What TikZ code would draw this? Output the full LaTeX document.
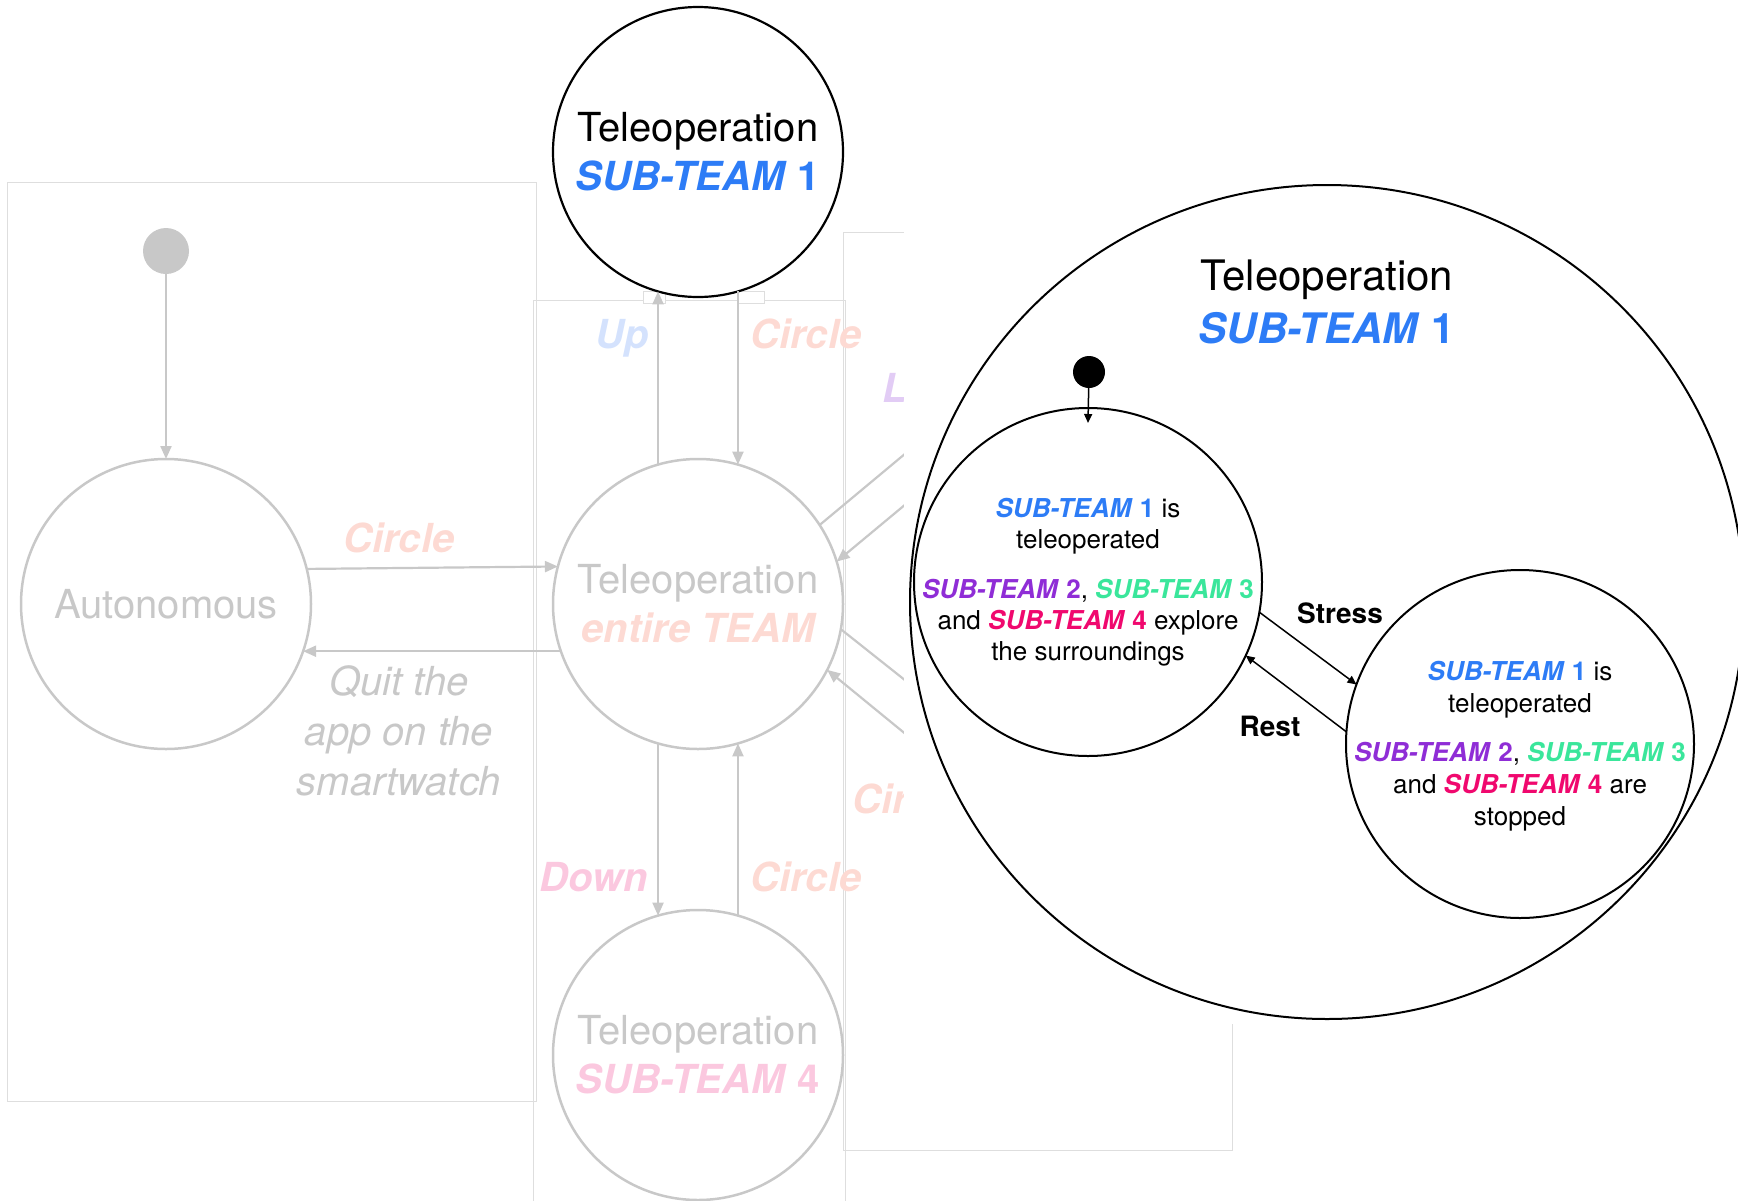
\documentclass[tikz,border=0pt]{standalone}
\usepackage{fontspec}
\setmainfont{TeX Gyre Heros}
\usetikzlibrary{arrows.meta,calc}

% palette
\definecolor{fadegray}{RGB}{200,200,200}
\definecolor{framegray}{RGB}{222,222,222}
\definecolor{teamone}{RGB}{45,124,246}
\definecolor{teamtwo}{RGB}{143,45,214}
\definecolor{teamthree}{RGB}{58,230,155}
\definecolor{teamfour}{RGB}{240,8,110}
\definecolor{fadeblue}{RGB}{212,226,253}
\definecolor{fadesalmon}{RGB}{253,218,211}
\definecolor{fadepink}{RGB}{251,200,223}
\definecolor{fadelilac}{RGB}{226,204,245}

% coloured sub-team tag: bold italic name, bold upright number
\newcommand\teamtag[2]{\textcolor{#1}{\bfseries\itshape SUB-TEAM\/ \upshape #2}}

\begin{document}
\begin{tikzpicture}[x=1pt,y=-1pt,
  framebox/.style={draw=framegray,line width=1pt},
  fadedline/.style={draw=fadegray,line width=2.2pt},
  fadedarrow/.style={fadedline,-{Triangle[length=13pt,width=11pt]}},
  bigstate/.style={circle,inner sep=0pt,outer sep=0pt,minimum size=290pt,
    align=center,font=\fontsize{40}{49}\selectfont},
  greystate/.style={bigstate,draw=fadegray,line width=2.5pt,text=fadegray},
  blackstate/.style={bigstate,draw=black,line width=2.2pt,fill=white},
  edgelabel/.style={anchor=base,inner sep=0pt,font=\fontsize{40}{50}\selectfont\bfseries\itshape},
  substate/.style={circle,draw=black,line width=2pt,inner sep=0pt,outer sep=0pt,minimum size=348pt},
  subtext/.style={align=center,inner sep=0pt,font=\fontsize{26}{31}\selectfont},
  blackarrow/.style={line width=1.5pt,-{Triangle[length=9pt,width=8pt]}},
  triggerlabel/.style={anchor=base,inner sep=0pt,font=\fontsize{28}{30}\selectfont\bfseries}]

\useasboundingbox (0,0) rectangle (1738,1200);

% ---------- state machine of the whole team (faded) ----------
\draw[framebox] (7,182) rectangle (536,1101);
\draw[framebox] (533,300) rectangle (845,1215);
\draw[framebox] (843,232) rectangle (1232,1150);
\draw[framebox,fill=white] (643,291) rectangle (665,303);
\draw[framebox,fill=white] (738,291) rectangle (764,303);

\node[circle,fill=fadegray,minimum size=46pt,inner sep=0pt,outer sep=0pt] (gstart) at (166,251) {};
\node[greystate] (auto) at (166,604) {Autonomous};
\node[greystate] (team) at (698,604) {Teleoperation\\\textcolor{fadesalmon}{\bfseries\itshape entire TEAM}};
\node[greystate] (four) at (698,1055) {Teleoperation\\\textcolor{fadepink}{\bfseries\itshape SUB-TEAM\/ \upshape 4}};

\draw[fadedarrow] (gstart) -- (auto);
\draw[fadedarrow] (auto.14.4) -- (team.165.6);
\draw[fadedarrow] (team.-161) -- (auto.-19);

\coordinate (r1) at (930,433);
\coordinate (r2) at (930,484);
\coordinate (r3) at (930,700);
\coordinate (r4) at (930,754);
\draw[fadedline] (team.33.6) -- (r1);
\draw[fadedarrow] (r2) -- (team.17.6);
\draw[fadedline] (team.-10) -- (r3);
\draw[fadedarrow] (r4) -- (team.-27.8);

\draw[fadedarrow] (team.254) -- (four.106);
\draw[fadedarrow] (four.74) -- (team.286);

% sub-team 1 state on top
\node[blackstate] (one) at (698,152) {Teleoperation\\\teamtag{teamone}{1}};
\draw[fadedarrow] (team.106) -- (one.254);
\draw[fadedarrow] (one.286) -- (team.74);

% transition labels
\node[edgelabel,text=fadesalmon] (lbcircle) at (399,552) {Circle};
\node[anchor=north,inner sep=0pt,align=center,text=fadegray,
  font=\fontsize{40}{50}\selectfont\itshape] (lbquit) at (399,665) {Quit the\\app on the\\smartwatch};
\node[edgelabel,text=fadeblue] (lbup) at (622,348) {Up};
\node[edgelabel,text=fadesalmon] (lbcircleup) at (806,348) {Circle};
\node[edgelabel,text=fadepink] (lbdown) at (594,891) {Down};
\node[edgelabel,text=fadesalmon] (lbcircledown) at (806,891) {Circle};
\node[edgelabel,anchor=base west,text=fadelilac] (lbl) at (882,402) {L};
\node[edgelabel,anchor=base west,text=fadesalmon] (lbcir) at (852,813) {Cir};

% ---------- detail of the sub-team 1 state ----------
\fill[white] (904,0) rectangle (1738,1024);
\node[circle,draw=black,line width=2pt,inner sep=0pt,outer sep=0pt,minimum size=834pt] (ring) at (1327,602) {};
\node[align=center,inner sep=0pt,font=\fontsize{42}{53}\selectfont] (ringtitle) at (1327,302)
  {Teleoperation\\\teamtag{teamone}{1}};

\node[circle,fill=black,minimum size=32pt,inner sep=0pt,outer sep=0pt] (bstart) at (1089,372) {};
\node[substate] (explore) at (1088,582) {};
\node[substate] (halt) at (1520,744) {};

\node[subtext] (exploretext) at (1088,582)
  {\teamtag{teamone}{1} is\\teleoperated\\[19pt]
   \teamtag{teamtwo}{2}, \teamtag{teamthree}{3}\\
   and \teamtag{teamfour}{4} explore\\the surroundings};
\node[subtext,font=\fontsize{26}{32}\selectfont] (halttext) at (1520,746)
  {\teamtag{teamone}{1} is\\teleoperated\\[17pt]
   \teamtag{teamtwo}{2}, \teamtag{teamthree}{3}\\
   and \teamtag{teamfour}{4} are\\stopped};

\draw[blackarrow] (bstart) -- ($(explore.north)+(0,15)$);
\draw[blackarrow] (explore.-10) -- (halt.160);
\draw[blackarrow] (halt.176) -- (explore.-25);

\node[triggerlabel] (lbstress) at (1340,623) {Stress};
\node[triggerlabel] (lbrest) at (1270,736) {Rest};

\end{tikzpicture}
\end{document}
